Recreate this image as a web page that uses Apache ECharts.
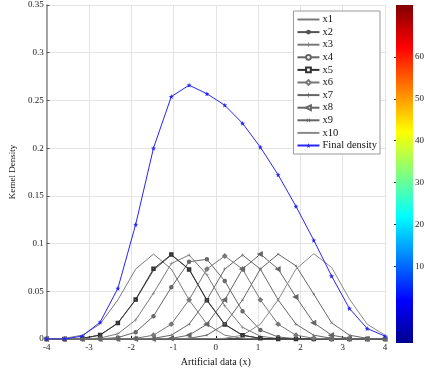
<!DOCTYPE html>
<html>
<head>
<meta charset="utf-8">
<script src="https://cdn.jsdelivr.net/npm/echarts@6/dist/echarts.min.js"></script>
<style>
  html, body { margin: 0; padding: 0; background: #fff; }
  #main { width: 427px; height: 372px; }
</style>
</head>
<body>
<div id="main"></div>
<script>
// sample points on the x axis (20 points from -4 to 4)
var xs = [-4, -3.579, -3.158, -2.737, -2.316, -1.895, -1.474, -1.053, -0.632, -0.211,
          0.211, 0.632, 1.053, 1.474, 1.895, 2.316, 2.737, 3.158, 3.579, 4];

// individual kernels
var x1 = [0, 0.0007, 0.004, 0.0155, 0.041, 0.0733, 0.089, 0.0733, 0.041, 0.0155, 0.004, 0.0007, 0, 0, 0, 0, 0, 0, 0, 0];
var x2 = [0, 0.0001, 0.0007, 0.004, 0.0165, 0.041, 0.072, 0.088, 0.0733, 0.041, 0.0155, 0.004, 0.0007, 0.0001, 0, 0, 0, 0, 0, 0];
var x3 = [0, 0, 0.0001, 0.001, 0.0054, 0.02, 0.048, 0.079, 0.088, 0.0673, 0.0348, 0.0122, 0.0029, 0.0005, 0.0001, 0, 0, 0, 0, 0];
var x4 = [0, 0, 0, 0.0002, 0.0015, 0.0072, 0.0239, 0.0541, 0.081, 0.0835, 0.0608, 0.0291, 0.0094, 0.0021, 0.0003, 0, 0, 0, 0, 0];
var x5 = [0, 0.0001, 0.0007, 0.0042, 0.0168, 0.0415, 0.0735, 0.0885, 0.0728, 0.0405, 0.0152, 0.0039, 0.0007, 0.0001, 0, 0, 0, 0, 0, 0];
var x6 = [0, 0, 0, 0, 0.0001, 0.0007, 0.004, 0.0155, 0.041, 0.0733, 0.087, 0.0733, 0.041, 0.0155, 0.004, 0.0007, 0.0001, 0, 0, 0];
var x7 = [0, 0, 0, 0, 0, 0.0001, 0.0007, 0.004, 0.0155, 0.041, 0.0733, 0.088, 0.0733, 0.041, 0.0155, 0.004, 0.0007, 0.0001, 0, 0];
var x8 = [0, 0, 0, 0, 0, 0, 0.0001, 0.0007, 0.004, 0.0155, 0.041, 0.0733, 0.089, 0.0733, 0.044, 0.017, 0.004, 0.0007, 0.0001, 0];
var x9 = [0, 0, 0, 0, 0, 0, 0, 0.0001, 0.0007, 0.004, 0.0155, 0.041, 0.0733, 0.089, 0.0766, 0.047, 0.017, 0.004, 0.0007, 0.0001];
var x10 = [0, 0, 0, 0, 0, 0, 0, 0, 0, 0.0001, 0.0007, 0.004, 0.0155, 0.041, 0.0733, 0.0894, 0.075, 0.042, 0.0155, 0.004];

// final density estimate
var finalDensity = [0, 0, 0.003, 0.0176, 0.053, 0.12, 0.2, 0.254, 0.266, 0.257,
                    0.245, 0.226, 0.201, 0.172, 0.139, 0.1035, 0.066, 0.032, 0.011, 0.003];

var kernelNames = ['x1', 'x2', 'x3', 'x4', 'x5', 'x6', 'x7', 'x8', 'x9', 'x10'];
var kernels = [x1, x2, x3, x4, x5, x6, x7, x8, x9, x10];

// colorbar
var colorbarTicks = [10, 20, 30, 40, 50, 60];
var colorbarRange = [-8.3, 72.4];

var PLUS = 'path://M4.3,0H5.7V4.3H10V5.7H5.7V10H4.3V5.7H0V4.3H4.3Z';
var STAR = 'path://M0,-10L2.4,-3.3 9.5,-3.1 3.9,1.3 5.9,8.1 0,4.1 -5.9,8.1 -3.9,1.3 -9.5,-3.1 -2.4,-3.3Z';

var kernelStyles = [
    {symbol: 'none', size: 0, rotate: 0, color: '#7a7a7a'},
    {symbol: 'circle', size: 2, rotate: 0, color: '#555'},
    {symbol: PLUS, size: 3.5, rotate: 0, color: '#7a7a7a'},
    {symbol: 'emptyCircle', size: 2.5, rotate: 0, color: '#666'},
    {symbol: 'emptyRect', size: 2.5, rotate: 0, color: '#333'},
    {symbol: 'emptyDiamond', size: 3, rotate: 0, color: '#777'},
    {symbol: PLUS, size: 3.5, rotate: 0, color: '#666'},
    {symbol: 'emptyTriangle', size: 3, rotate: 90, color: '#666'},
    {symbol: PLUS, size: 3.5, rotate: 45, color: '#666'},
    {symbol: 'none', size: 0, rotate: 0, color: '#8a8a8a'}
];

function pair(ys) {
    var out = [];
    for (var i = 0; i < xs.length; i++) out.push([xs[i], ys[i]]);
    return out;
}

var FONT = '"Liberation Serif", "DejaVu Serif", serif';

var series = [];
var legendData = [];
for (var i = 0; i < kernels.length; i++) {
    var st = kernelStyles[i];
    series.push({
        name: kernelNames[i],
        type: 'line',
        data: pair(kernels[i]),
        symbol: st.symbol,
        symbolSize: st.size,
        symbolRotate: st.rotate,
        showSymbol: st.symbol !== 'none',
        color: st.color,
        lineStyle: {width: 1, color: st.color},
        itemStyle: {color: st.color, borderWidth: 0.7},
        animation: false,
        z: 2
    });
    legendData.push(st.symbol === 'none'
        ? {name: kernelNames[i], itemStyle: {opacity: 0}}
        : {name: kernelNames[i]});
}
legendData.push({name: 'Final density'});

series.push({
    name: 'Final density',
    type: 'line',
    data: pair(finalDensity),
    symbol: STAR,
    symbolSize: 5,
    color: '#2626f2',
    lineStyle: {width: 1, color: '#2626f2'},
    itemStyle: {color: '#2626f2'},
    animation: false,
    z: 3
});
series.push({
    type: 'custom',
    xAxisIndex: 1,
    yAxisIndex: 1,
    silent: true,
    animation: false,
    data: [[0, colorbarRange[0], colorbarRange[1]]],
    renderItem: function (params, api) {
        var p0 = api.coord([0, api.value(2)]);
        var p1 = api.coord([1, api.value(1)]);
        return {
            type: 'rect',
            shape: {x: p0[0], y: p0[1], width: p1[0] - p0[0], height: p1[1] - p0[1]},
            style: {
                fill: new echarts.graphic.LinearGradient(0, 1, 0, 0, [
                    {offset: 0, color: '#00008f'},
                    {offset: 0.125, color: '#0000ff'},
                    {offset: 0.375, color: '#00ffff'},
                    {offset: 0.625, color: '#ffff00'},
                    {offset: 0.875, color: '#ff0000'},
                    {offset: 1, color: '#800000'}
                ])
            }
        };
    }
});

var chart = echarts.init(document.getElementById('main'));
var option = {
    backgroundColor: '#fff',
    textStyle: {fontFamily: FONT},
    grid: [
        {left: 34, right: 42, top: 5, bottom: 29},
        {left: 396, width: 17, top: 5, bottom: 29}
    ],
    legend: {
        data: legendData,
        orient: 'vertical',
        right: 47,
        top: 11,
        itemWidth: 22,
        itemHeight: 6,
        itemGap: 1.6,
        padding: [3, 3, 3, 3],
        borderColor: '#999',
        borderWidth: 1,
        backgroundColor: '#fff',
        textStyle: {fontSize: 10.5, fontFamily: FONT, color: '#111', padding: [0, 0, 0, -2]}
    },
    xAxis: [{
        type: 'value',
        min: -4, max: 4, interval: 1,
        name: 'Artificial data (x)',
        nameLocation: 'middle',
        nameGap: 18,
        nameTextStyle: {fontSize: 10, fontFamily: FONT, color: '#111'},
        axisLine: {onZero: false, lineStyle: {color: '#111', width: 1.5}},
        axisTick: {inside: true, length: 3, lineStyle: {color: '#111'}},
        axisLabel: {fontSize: 9, fontFamily: FONT, color: '#222', margin: 4},
        splitLine: {show: true, lineStyle: {color: '#e4e4e4', width: 1}}
    }, {
        gridIndex: 1,
        type: 'value',
        min: 0, max: 1,
        show: false
    }],
    yAxis: [{
        type: 'value',
        min: 0, max: 0.35, interval: 0.05,
        name: 'Kernel Density',
        nameLocation: 'middle',
        nameGap: 23,
        nameTextStyle: {fontSize: 9, fontFamily: FONT, color: '#111'},
        axisLine: {show: true, onZero: false, lineStyle: {color: '#888', width: 1.5}},
        axisTick: {show: true, inside: true, length: 3, lineStyle: {color: '#555'}},
        axisLabel: {fontSize: 9, fontFamily: FONT, color: '#222', margin: 3},
        splitLine: {show: true, lineStyle: {color: '#e4e4e4', width: 1}}
    }, {
        gridIndex: 1,
        type: 'value',
        position: 'right',
        min: colorbarRange[0], max: colorbarRange[1],
        axisLine: {show: false},
        axisTick: {show: true, inside: true, length: 2, customValues: colorbarTicks, lineStyle: {color: '#333'}},
        axisLabel: {fontSize: 9, fontFamily: FONT, color: '#222', margin: 2, customValues: colorbarTicks},
        splitLine: {show: false}
    }],
    series: series
};
chart.setOption(option);
</script>
</body>
</html>
